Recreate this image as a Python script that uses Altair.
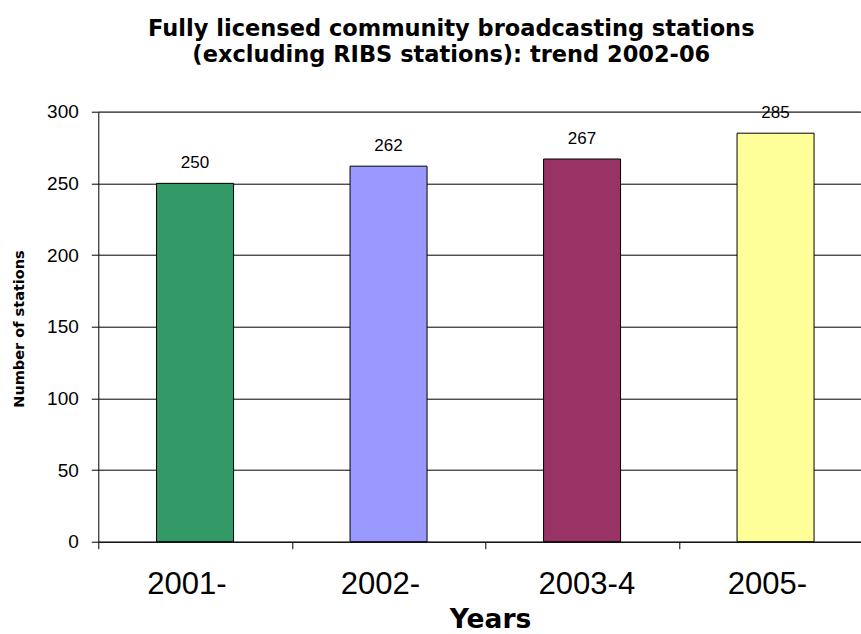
import altair as alt
import pandas as pd

years = ["2001-", "2002-", "2003-4", "2005-"]
stations = [250, 262, 267, 285]
bar_colors = ["#339966", "#9999FF", "#993366", "#FFFF99"]
y_ticks = [0, 50, 100, 150, 200, 250, 300]

df = pd.DataFrame({"year": years, "stations": stations})

W = 762
H = 430
BAND_RANGE = 774

NB = "\u00a0"
ZW = "\u200b"

x_enc = alt.X(
    "year:N",
    sort=years,
    scale=alt.Scale(range=[0, BAND_RANGE], paddingInner=0, paddingOuter=0),
    axis=alt.Axis(
        title="Years",
        titleFont="DejaVu Sans",
        titleFontSize=26.5,
        titleFontWeight="bold",
        titleColor="black",
        titleX=391.7,
        titleY=85.5,
        titleAlign="center",
        titleBaseline="alphabetic",
        labelFont="Liberation Sans",
        labelFontSize=31,
        labelColor="black",
        labelPadding=21,
        labelAngle=0,
        labelExpr=(
            f"datum.label == '2003-4' ? '{ZW}{NB}' + datum.label"
            f" : datum.label + '{NB}{NB}{ZW}'"
        ),
        tickBand="extent",
        tickSize=7,
        tickColor="black",
        domainColor="black",
        grid=False,
    ),
)

y_enc = alt.Y(
    "stations:Q",
    scale=alt.Scale(domain=[0, 300], nice=False),
    axis=alt.Axis(
        title="Number of stations",
        titleFont="DejaVu Sans",
        titleFontSize=14.5,
        titleFontWeight="bold",
        titleColor="black",
        titleAngle=270,
        titleX=-75.3,
        titleY=216.8,
        titleAlign="center",
        titleBaseline="alphabetic",
        values=y_ticks,
        labelFont="Liberation Sans",
        labelFontSize=19,
        labelColor="black",
        labelPadding=13,
        tickSize=7,
        tickColor="black",
        domainColor="black",
        grid=True,
        gridColor="black",
        gridWidth=1,
    ),
)

bars = alt.Chart(df).mark_bar(stroke="black", strokeWidth=1, size=77).encode(
    x=x_enc,
    y=y_enc,
    color=alt.Color("year:N", scale=alt.Scale(domain=years, range=bar_colors), legend=None),
)

top_border = alt.Chart(pd.DataFrame({"v": [300]})).mark_rule(color="#808080", strokeWidth=1).encode(
    y=alt.Y("v:Q")
)

labels = alt.Chart(df).mark_text(
    font="Liberation Sans", fontSize=17, baseline="alphabetic", dy=-15, color="black"
).encode(
    x=alt.X("year:N", sort=years),
    y=alt.Y("stations:Q"),
    text=alt.Text("stations:Q"),
)

chart = (
    alt.layer(bars, top_border, labels)
    .properties(
        width=W,
        height=H,
        title=alt.TitleParams(
            text=["Fully licensed community broadcasting stations", "(excluding RIBS stations): trend 2002-06"],
            font="DejaVu Sans",
            fontSize=22.5,
            fontWeight="bold",
            color="black",
            lineHeight=26,
            anchor="middle",
            dx=-28,
            offset=36,
        ),
        autosize=alt.AutoSizeParams(type="none"),
        padding={"left": 98.3, "top": 111.7, "right": 0.7, "bottom": 92.3},
        background="white",
    )
    .configure_view(stroke=None)
)

chart.save("out.html", embed_options={"renderer": "svg", "actions": False})
